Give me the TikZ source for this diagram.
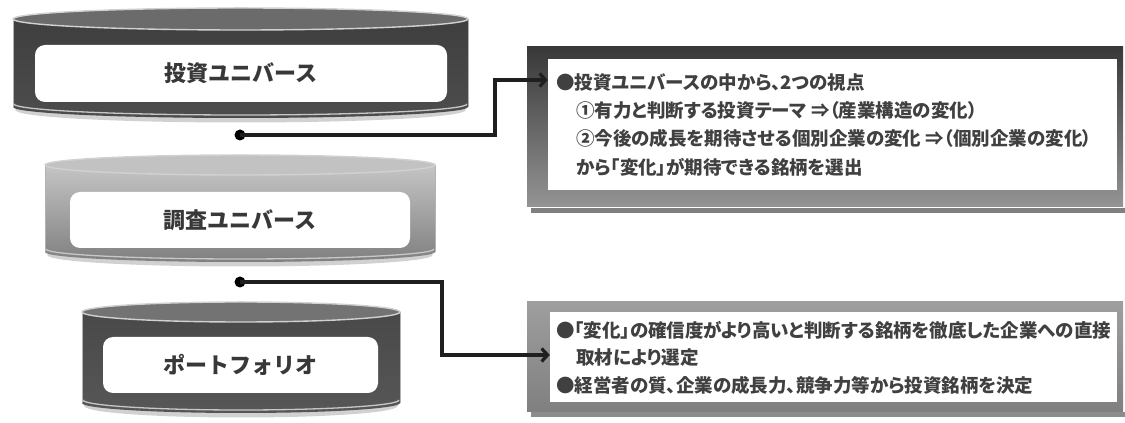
\documentclass[tikz,border=0pt]{standalone}
\usepackage{fontspec}
\newfontfamily\jp{Noto Sans CJK JP}
\newfontfamily\jpp[RawFeature=+palt]{Noto Sans CJK JP}
\usetikzlibrary{arrows.meta}
\newcommand\mycyl[8]{%
  % soft shadow under the bottom edge
  \draw[black!18, line width=5pt] (#1-#2+4,#4-1) arc[start angle=180,end angle=360,x radius=#2-4,y radius=#5+1];
  % body
  \shade[top color=#7, bottom color=#8] (#1-#2,#3) -- (#1-#2,#4)
     arc[start angle=180,end angle=360,x radius=#2,y radius=#5] -- (#1+#2,#3)
     arc[start angle=0,end angle=180,x radius=#2,y radius=#5] -- cycle;
  % light rim along the bottom front edge
  \draw[white!78!black, line width=1.3pt] (#1-#2+1,#4+3) arc[start angle=180,end angle=360,x radius=#2-1,y radius=#5];
  % side outlines
  \draw[white!70!black, line width=0.8pt] (#1-#2,#3) -- (#1-#2,#4);
  \draw[white!70!black, line width=0.8pt] (#1+#2,#3) -- (#1+#2,#4);
  % top ellipse
  \filldraw[fill=#6, draw=white!82!black, line width=1.4pt] (#1,#3) ellipse[x radius=#2, y radius=#5];
}
\begin{document}
\begin{tikzpicture}[x=1pt,y=1pt,
  lbl/.style={font=\jp\bfseries\fontsize{22}{26}\selectfont, text=black!78},
  txt/.style={font=\jpp\bfseries\fontsize{18.5}{22}\selectfont, text=black!75, anchor=west, inner sep=0pt},
  inbox/.style={fill=white, rounded corners=10pt, inner sep=0pt},
  whitebox/.style={fill=white, inner sep=0pt},
  dotn/.style={circle, fill=black, inner sep=0pt, minimum size=11pt},
  conn/.style={line width=3.2pt, black!88, -{Straight Barb[length=6pt,width=13pt]}},
  darkframe/.style={top color=black!78, bottom color=black!42, inner sep=0pt},
  lightframe/.style={top color=black!38, bottom color=black!50, inner sep=0pt}
]
\useasboundingbox (0,0) rectangle (1125,423);
\fill[white] (0,0) rectangle (1125,423);

% cylinders: cx, rx, Ytop, Ybottom, ry, top colour, body top, body bottom
\mycyl{240.5}{227.5}{404}{316}{11}{black!58}{black!76}{black!70}
\mycyl{240}{195}{258}{171}{10}{black!24}{black!20}{black!50}
\mycyl{241}{159}{111}{20}{10}{black!55}{black!72}{black!66}

\node[inbox, minimum width=412pt, minimum height=57pt, lbl] (c1) at (241,349.5) {投資ユニバース};
\node[inbox, minimum width=340pt, minimum height=56pt, lbl] (c2) at (240,203) {調査ユニバース};
\node[inbox, minimum width=275pt, minimum height=56pt, lbl] (c3) at (240.5,58) {ポートフォリオ};

% dots below cylinders
\node[dotn] (d1) at (240,288) {};
\node[dotn] (d2) at (240,141) {};

% upper text box
\fill[black!50] (531,215) rectangle (1125,210);
\node[darkframe, minimum width=596pt, minimum height=160pt] (b1) at (825,296) {};
\node[whitebox, minimum width=569pt, minimum height=131pt] (b1in) at (832.5,298.5) {};
\node[txt] (t11) at (556,340) {●投資ユニバースの中から、2つの視点};
\node[txt] (t12) at (576,313) {①有力と判断する投資テーマ ⇒（産業構造の変化）};
\node[txt] (t13) at (576,285) {②今後の成長を期待させる個別企業の変化 ⇒（個別企業の変化）};
\node[txt] (t14) at (576,256) {から「変化」が期待できる銘柄を選出};

% lower text box
\fill[black!45] (531,11) rectangle (1125,6);
\node[lightframe, minimum width=596pt, minimum height=110pt] (b2) at (825,66) {};
\node[whitebox, minimum width=567pt, minimum height=90pt] (b2in) at (833.5,66) {};
\node[txt] (t21) at (556,93) {●「変化」の確信度がより高いと判断する銘柄を徹底した企業への直接};
\node[txt] (t22) at (576,65) {取材により選定};
\node[txt] (t23) at (556,38) {●経営者の質、企業の成長力、競争力等から投資銘柄を決定};

% connectors
\coordinate (k1) at (495,288);
\coordinate (a1) at (b1in.west |- 0,343);
\coordinate (k2) at (442,141);
\coordinate (a2) at (b2in.west |- 0,68);
\draw[conn] (d1.center) -- (k1) |- (a1);
\draw[conn] (d2.center) -- (k2) |- (a2);
\end{tikzpicture}
\end{document}
